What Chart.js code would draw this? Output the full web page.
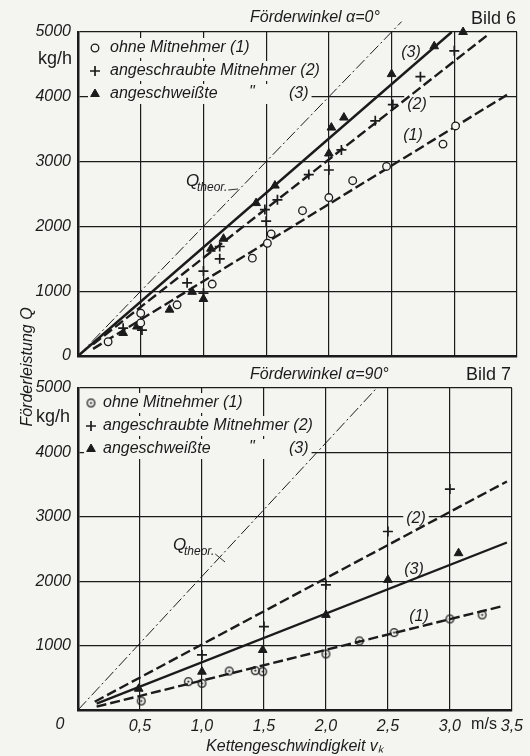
<!DOCTYPE html>
<html>
<head>
<meta charset="utf-8">
<script src="https://cdn.jsdelivr.net/npm/chart.js@4.4.1/dist/chart.umd.min.js"></script>
<style>
  body { margin: 0; background: #f4f4f1; }
  #wrap { position: relative; width: 530px; height: 756px; }
  canvas { position: absolute; left: 0; top: 0; }
</style>
</head>
<body>
<div id="wrap">
  <canvas id="bild6" width="530" height="756"></canvas>
  <canvas id="bild7" width="530" height="756"></canvas>
</div>
<script>
// axis ticks
const speedTicks = [0, 0.5, 1.0, 1.5, 2.0, 2.5, 3.0, 3.5];
const speedLabels = ['', '0,5', '1,0', '1,5', '2,0', '2,5', '3,0', '3,5'];
const flowTicks = [0, 1000, 2000, 3000, 4000, 5000];
const flowLabels6 = ['0', '1000', '2000', '3000', '4000', '5000'];
const flowLabels7 = ['', '1000', '2000', '3000', '4000', '5000'];

// Bild 6, Förderwinkel 0° -- measured points
const b6OhneX = [0.24, 0.50, 0.50, 0.79, 1.07, 1.39, 1.51, 1.54, 1.79, 2.00, 2.19, 2.46, 2.91, 3.01];
const b6OhneY = [220, 510, 660, 790, 1110, 1510, 1740, 1885, 2242, 2445, 2705, 2925, 3270, 3550];
const b6SchraubX = [0.36, 0.51, 0.87, 1.00, 1.00, 1.13, 1.13, 1.49, 1.50, 1.59, 1.84, 2.00, 2.10, 2.37, 2.51, 2.73, 3.00];
const b6SchraubY = [430, 400, 1130, 970, 1310, 1500, 1690, 2260, 2080, 2410, 2800, 2870, 3180, 3630, 3880, 4310, 4710];
const b6SchweissX = [0.36, 0.47, 0.73, 0.91, 1.00, 1.06, 1.16, 1.42, 1.57, 2.00, 2.02, 2.12, 2.50, 2.84, 3.07];
const b6SchweissY = [355, 455, 715, 990, 880, 1655, 1810, 2360, 2630, 3125, 3525, 3680, 4350, 4780, 5000];
// Bild 6 -- drawn lines (end points)
const b6TheorX = [0, 2.58];
const b6TheorY = [0, 5160];
const b6Line1X = [0.12, 3.42];
const b6Line1Y = [110, 4030];
const b6Line2X = [0.12, 3.27];
const b6Line2Y = [180, 4960];
const b6Line3X = [0, 2.98];
const b6Line3Y = [0, 5000];

// Bild 7, Förderwinkel 90° -- measured points
const b7OhneX = [0.51, 0.89, 1.00, 1.22, 1.43, 1.49, 2.00, 2.27, 2.55, 3.00, 3.26];
const b7OhneY = [140, 440, 414, 605, 611, 595, 870, 1073, 1202, 1414, 1477];
const b7SchraubX = [1.00, 1.50, 2.00, 2.50, 3.00];
const b7SchraubY = [855, 1295, 1943, 2772, 3430];
const b7SchweissX = [0.49, 1.00, 1.49, 2.00, 2.50, 3.07];
const b7SchweissY = [330, 595, 932, 1477, 2021, 2435];
// Bild 7 -- drawn lines (end points)
const b7TheorX = [0, 2.41];
const b7TheorY = [0, 5000];
const b7Line1X = [0.15, 3.41];
const b7Line1Y = [52, 1606];
const b7Line2X = [0.135, 3.46];
const b7Line2Y = [129, 3549];
const b7Line3X = [0.15, 3.46];
const b7Line3Y = [100, 2601];

const INK = '#1b1b1b';
const PAPER = '#f4f4f1';
const SANS = "'Liberation Sans', Arial, sans-serif";
const TXT = 16;

function pts(xs, ys) {
  return xs.map((x, i) => ({ x: x, y: ys[i] }));
}

// dotted circle marker for Bild 7
const dotCircle = document.createElement('canvas');
dotCircle.width = 11; dotCircle.height = 11;
(function () {
  const c = dotCircle.getContext('2d');
  c.strokeStyle = INK; c.fillStyle = INK; c.lineWidth = 1.3;
  c.beginPath(); c.arc(5.5, 5.5, 3.8, 0, Math.PI * 2); c.stroke();
  c.beginPath(); c.arc(5.5, 5.5, 1.1, 0, Math.PI * 2); c.fill();
})();

const markers = {
  open: { pointStyle: 'circle', radius: 3.8, borderWidth: 1.3, backgroundColor: PAPER, borderColor: INK },
  dot: { pointStyle: dotCircle, radius: 4, borderWidth: 1, backgroundColor: PAPER, borderColor: INK },
  cross: { pointStyle: 'cross', radius: 5, borderWidth: 1.7, backgroundColor: INK, borderColor: INK },
  tri: { pointStyle: 'triangle', radius: 5, borderWidth: 1, backgroundColor: INK, borderColor: INK }
};

function lineDs(xs, ys, dash, width, clip) {
  return {
    data: pts(xs, ys), showLine: true, borderColor: INK, borderWidth: width,
    borderDash: dash, pointRadius: 0, tension: 0, order: 2, clip: clip
  };
}

function pointDs(xs, ys, m) {
  return {
    data: pts(xs, ys), showLine: false, pointStyle: m.pointStyle, pointRadius: m.radius,
    pointBorderWidth: m.borderWidth, pointBackgroundColor: m.backgroundColor,
    pointBorderColor: m.borderColor, order: 1, clip: false
  };
}

function options(top, xHeight, withX, flowLabels) {
  return {
    responsive: false,
    animation: false,
    layout: { padding: { left: 0, top: top, right: 13, bottom: 0 } },
    plugins: { legend: { display: false }, tooltip: { enabled: false } },
    scales: {
      x: {
        type: 'linear', min: 0, max: 3.5,
        afterFit: (s) => { s.height = xHeight; },
        ticks: {
          display: withX, stepSize: 0.5, autoSkip: false, maxRotation: 0, padding: 7, color: INK,
          font: { family: SANS, size: TXT, style: 'italic' },
          callback: (v) => speedLabels[speedTicks.indexOf(Math.round(v * 2) / 2)] || ''
        },
        grid: { color: INK, lineWidth: 1.2, drawTicks: false },
        border: { color: INK, width: 2.5 },
        title: {
          display: withX, text: 'Kettengeschwindigkeit vₖ', color: INK, padding: 0,
          font: { family: SANS, size: TXT, style: 'italic' }
        }
      },
      y: {
        min: 0, max: 5000,
        afterFit: (s) => { s.width = 78; },
        ticks: {
          stepSize: 1000, padding: 7, color: INK,
          font: { family: SANS, size: TXT, style: 'italic' },
          callback: (v) => flowLabels[flowTicks.indexOf(v)] || ''
        },
        grid: { color: INK, lineWidth: 1.2, drawTicks: false },
        border: { color: INK, width: 2.5 }
      }
    }
  };
}

function font(size, italic) {
  return (italic ? 'italic ' : '') + size + 'px ' + SANS;
}

// titles, legend, line labels
function annotate(spec) {
  function masks(ctx) {
    const out = [];
    ctx.font = font(TXT, true);
    spec.legend.forEach((row) => {
      let right = row.textX + ctx.measureText(row.text).width;
      if (row.third) right = row.third + ctx.measureText('(3)').width;
      out.push([row.markX - 7, row.y - 10, right - row.markX + 10, 20]);
    });
    spec.labels.forEach((l) => {
      const w = ctx.measureText(l.t).width;
      out.push([l.x - w / 2 - 3, l.y - 10, w + 6, 20]);
    });
    return out;
  }
  return {
    id: 'annot',
    beforeDatasetsDraw(chart) {
      const ctx = chart.ctx;
      ctx.save();
      ctx.fillStyle = PAPER;
      masks(ctx).forEach((b) => ctx.fillRect(b[0], b[1], b[2], b[3]));
      ctx.restore();
    },
    afterDatasetsDraw(chart) {
      const ctx = chart.ctx;
      ctx.save();
      ctx.textBaseline = 'middle';
      spec.texts.forEach((t) => {
        ctx.fillStyle = INK;
        ctx.font = font(t.size, t.italic);
        ctx.textAlign = t.align || 'left';
        if (t.rot) {
          ctx.save();
          ctx.translate(t.x, t.y);
          ctx.rotate(t.rot);
          ctx.fillText(t.t, 0, 0);
          ctx.restore();
        } else {
          ctx.fillText(t.t, t.x, t.y);
        }
      });
      ctx.textAlign = 'left';
      spec.legend.forEach((row) => {
        const m = row.marker;
        ctx.fillStyle = m.backgroundColor;
        ctx.strokeStyle = m.borderColor;
        ctx.lineWidth = m.borderWidth;
        Chart.helpers.drawPoint(ctx, { pointStyle: m.pointStyle, radius: m.radius, rotation: 0, borderWidth: m.borderWidth }, row.markX, row.y);
        ctx.fillStyle = INK;
        ctx.font = font(TXT, true);
        ctx.fillText(row.text, row.textX, row.y);
        if (row.third) {
          ctx.fillText('"', row.third - 40, row.y - 1);
          ctx.fillText('(3)', row.third, row.y);
        }
      });
      ctx.textAlign = 'center';
      ctx.font = font(TXT, true);
      spec.labels.forEach((l) => ctx.fillText(l.t, l.x, l.y));
      // Q theor label with leader
      const q = spec.theor;
      ctx.textAlign = 'left';
      ctx.font = font(17, true);
      ctx.fillText('Q', q.x, q.y);
      ctx.font = font(12, true);
      ctx.fillText('theor.', q.x + 11, q.y + 7);
      const tw = ctx.measureText('theor.').width;
      ctx.strokeStyle = INK;
      ctx.lineWidth = 0.9;
      ctx.beginPath();
      ctx.moveTo(q.x + 12 + tw, q.y + 9);
      ctx.lineTo(q.lx, q.ly);
      ctx.stroke();
      ctx.restore();
    }
  };
}

function legendRows(top, gap, markX, textX, first) {
  return [
    { marker: first, markX: markX, y: top, textX: textX, text: 'ohne Mitnehmer (1)' },
    { marker: markers.cross, markX: markX, y: top + gap, textX: textX, text: 'angeschraubte Mitnehmer (2)' },
    { marker: markers.tri, markX: markX, y: top + 2 * gap, textX: textX, text: 'angeschweißte', third: 289 }
  ];
}

new Chart(document.getElementById('bild6'), {
  type: 'scatter',
  data: {
    datasets: [
      lineDs(b6TheorX, b6TheorY, [12, 3, 2, 3], 1, false),
      lineDs(b6Line1X, b6Line1Y, [10, 4], 2.4, true),
      lineDs(b6Line2X, b6Line2Y, [10, 4], 2.4, true),
      lineDs(b6Line3X, b6Line3Y, [], 2.4, false),
      pointDs(b6OhneX, b6OhneY, markers.open),
      pointDs(b6SchraubX, b6SchraubY, markers.cross),
      pointDs(b6SchweissX, b6SchweissY, markers.tri)
    ]
  },
  options: options(32, 400, false, flowLabels6),
  plugins: [annotate({
    texts: [
      { t: 'Förderwinkel α=0°', x: 250, y: 18, size: TXT, italic: true },
      { t: 'Bild 6', x: 471, y: 19, size: 18, italic: false },
      { t: 'kg/h', x: 72, y: 59, size: 18, italic: false, align: 'right' }
    ],
    legend: legendRows(48, 23, 95, 110, markers.open),
    labels: [
      { t: '(3)', x: 411, y: 53 },
      { t: '(2)', x: 417, y: 105 },
      { t: '(1)', x: 413, y: 136 }
    ],
    theor: { x: 186, y: 181, lx: 238, ly: 189 }
  })]
});

new Chart(document.getElementById('bild7'), {
  type: 'scatter',
  data: {
    datasets: [
      lineDs(b7TheorX, b7TheorY, [12, 3, 2, 3], 1, false),
      lineDs(b7Line1X, b7Line1Y, [10, 4], 2.4, true),
      lineDs(b7Line2X, b7Line2Y, [10, 4], 2.4, true),
      lineDs(b7Line3X, b7Line3Y, [], 2.4, true),
      pointDs(b7OhneX, b7OhneY, markers.dot),
      pointDs(b7SchraubX, b7SchraubY, markers.cross),
      pointDs(b7SchweissX, b7SchweissY, markers.tri)
    ]
  },
  options: options(388, 46, true, flowLabels7),
  plugins: [annotate({
    texts: [
      { t: 'Förderwinkel α=90°', x: 250, y: 375, size: TXT, italic: true },
      { t: 'Bild 7', x: 466, y: 375, size: 18, italic: false },
      { t: 'kg/h', x: 70, y: 417, size: 18, italic: false, align: 'right' },
      { t: 'Förderleistung Q', x: 28, y: 367, size: TXT, italic: true, align: 'center', rot: -Math.PI / 2 },
      { t: '0', x: 60, y: 725, size: TXT, italic: true, align: 'center' },
      { t: 'm/s', x: 484, y: 725, size: 16, italic: false, align: 'center' }
    ],
    legend: legendRows(403, 23, 91, 103, markers.dot),
    labels: [
      { t: '(2)', x: 416, y: 519 },
      { t: '(3)', x: 414, y: 570 },
      { t: '(1)', x: 419, y: 617 }
    ],
    theor: { x: 173, y: 545, lx: 225, ly: 562 }
  })]
});
</script>
</body>
</html>
